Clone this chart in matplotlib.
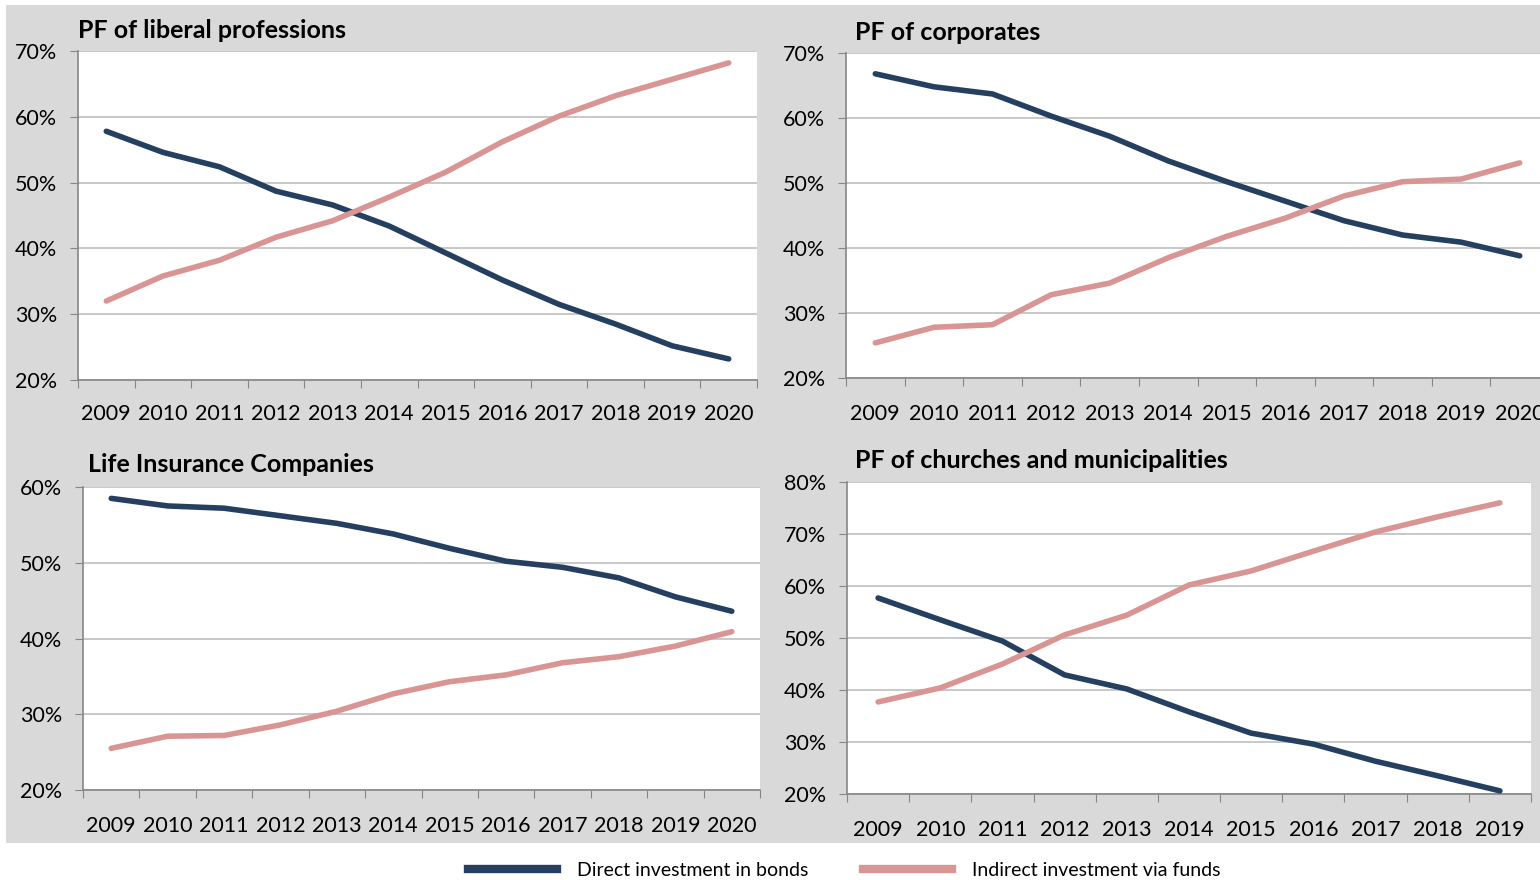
import matplotlib
matplotlib.use("Agg")
from matplotlib import pyplot as plt, patches
from matplotlib.lines import Line2D
import numpy as np

plt.rcParams['font.family'] = ['Lato', 'DejaVu Sans']

years_12 = ['2009', '2010', '2011', '2012', '2013', '2014', '2015', '2016', '2017', '2018', '2019', '2020']
years_11 = years_12[:11]

liberal_direct = [57.8, 54.6, 52.4, 48.7, 46.6, 43.4, 39.3, 35.2, 31.5, 28.5, 25.2, 23.2]
liberal_indirect = [32.0, 35.8, 38.2, 41.7, 44.2, 47.8, 51.6, 56.2, 60.1, 63.2, 65.7, 68.2]

corp_direct = [66.8, 64.8, 63.7, 60.3, 57.2, 53.4, 50.2, 47.2, 44.2, 42.0, 40.9, 38.8]
corp_indirect = [25.4, 27.8, 28.2, 32.8, 34.6, 38.5, 41.8, 44.6, 48.0, 50.2, 50.6, 53.1]

life_direct = [58.5, 57.5, 57.2, 56.2, 55.2, 53.8, 51.9, 50.2, 49.4, 48.0, 45.5, 43.6]
life_indirect = [25.5, 27.1, 27.2, 28.6, 30.4, 32.7, 34.3, 35.2, 36.8, 37.6, 39.0, 40.9]

church_direct = [57.7, 53.5, 49.4, 42.9, 40.2, 35.8, 31.7, 29.6, 26.3, 23.5, 20.6]
church_indirect = [37.7, 40.4, 45.0, 50.6, 54.4, 60.2, 62.9, 66.7, 70.4, 73.3, 76.0]

navy = '#243F60'
pink = '#D99594'
panel_gray = '#D9D9D9'
grid_gray = '#BFBFBF'
axis_gray = '#868686'

W, H = 1540, 880
fig = plt.figure(figsize=(W / 100, H / 100), dpi=100)
fig.patch.set_facecolor('white')
fig.patches.append(patches.Rectangle((6 / W, 1 - 843 / H), 1 - 6 / W, (843 - 5) / H,
                                     transform=fig.transFigure, facecolor=panel_gray,
                                     edgecolor='none', zorder=-5))


def px_axes(left, top, right, bottom):
    return fig.add_axes([left / W, 1 - bottom / H, (right - left) / W, (bottom - top) / H])


def draw_panel(ax, years, direct, indirect, ymin, ymax, ystep, title, tx, ty, xpad=17):
    n = len(years)
    x = np.arange(n) + 0.5
    ax.set_facecolor('white')
    ax.plot(x, direct, color=navy, lw=4, solid_capstyle='round', zorder=3)
    ax.plot(x, indirect, color=pink, lw=4, solid_capstyle='round', zorder=3)
    ax.set_xlim(0, n)
    ax.set_ylim(ymin, ymax)
    yt = np.arange(ymin, ymax + 0.1, ystep)
    ax.set_yticks(yt)
    ax.set_yticklabels([f'{int(v)}%' for v in yt], fontsize=15.5)
    ax.set_xticks(np.arange(n + 1))
    ax.set_xticklabels([])
    ax.set_xticks(x, minor=True)
    ax.set_xticklabels(years, minor=True, fontsize=15.5)
    ax.tick_params(axis='x', which='major', length=6, color=axis_gray, direction='out')
    ax.tick_params(axis='x', which='minor', length=0, pad=xpad)
    ax.tick_params(axis='y', length=6, color=axis_gray, pad=9)
    ax.grid(axis='y', color=grid_gray, lw=1.2, zorder=1)
    for s in ['top', 'right']:
        ax.spines[s].set_visible(False)
    for s in ['left', 'bottom']:
        ax.spines[s].set_color(axis_gray)
        ax.spines[s].set_linewidth(1.2)
    fig.text(tx / W, 1 - ty / H, title, fontsize=18, fontweight='bold', va='center', ha='left')


ax1 = px_axes(78, 51, 757, 380)
draw_panel(ax1, years_12, liberal_direct, liberal_indirect, 20, 70, 10,
           'PF of liberal professions', 78, 31)

ax2 = px_axes(846, 53, 1549, 378)
draw_panel(ax2, years_12, corp_direct, corp_indirect, 20, 70, 10,
           'PF of corporates', 855, 33, xpad=19)

ax3 = px_axes(83, 487, 760, 790)
draw_panel(ax3, years_12, life_direct, life_indirect, 20, 60, 10,
           'Life Insurance Companies', 88, 464, xpad=19)

ax4 = px_axes(847, 482, 1531, 794)
draw_panel(ax4, years_11, church_direct, church_indirect, 20, 80, 10,
           'PF of churches and municipalities', 855, 461, xpad=19)

handles = [Line2D([], [], color=navy, lw=6), Line2D([], [], color=pink, lw=6)]
fig.legend(handles, ['Direct investment in bonds', 'Indirect investment via funds'],
           loc='center', bbox_to_anchor=(844 / W, 1 - 870 / H), ncol=2, frameon=False,
           fontsize=14, handlelength=4.6, columnspacing=2.8, handletextpad=1.0)

fig.savefig('out.png', dpi=100)
